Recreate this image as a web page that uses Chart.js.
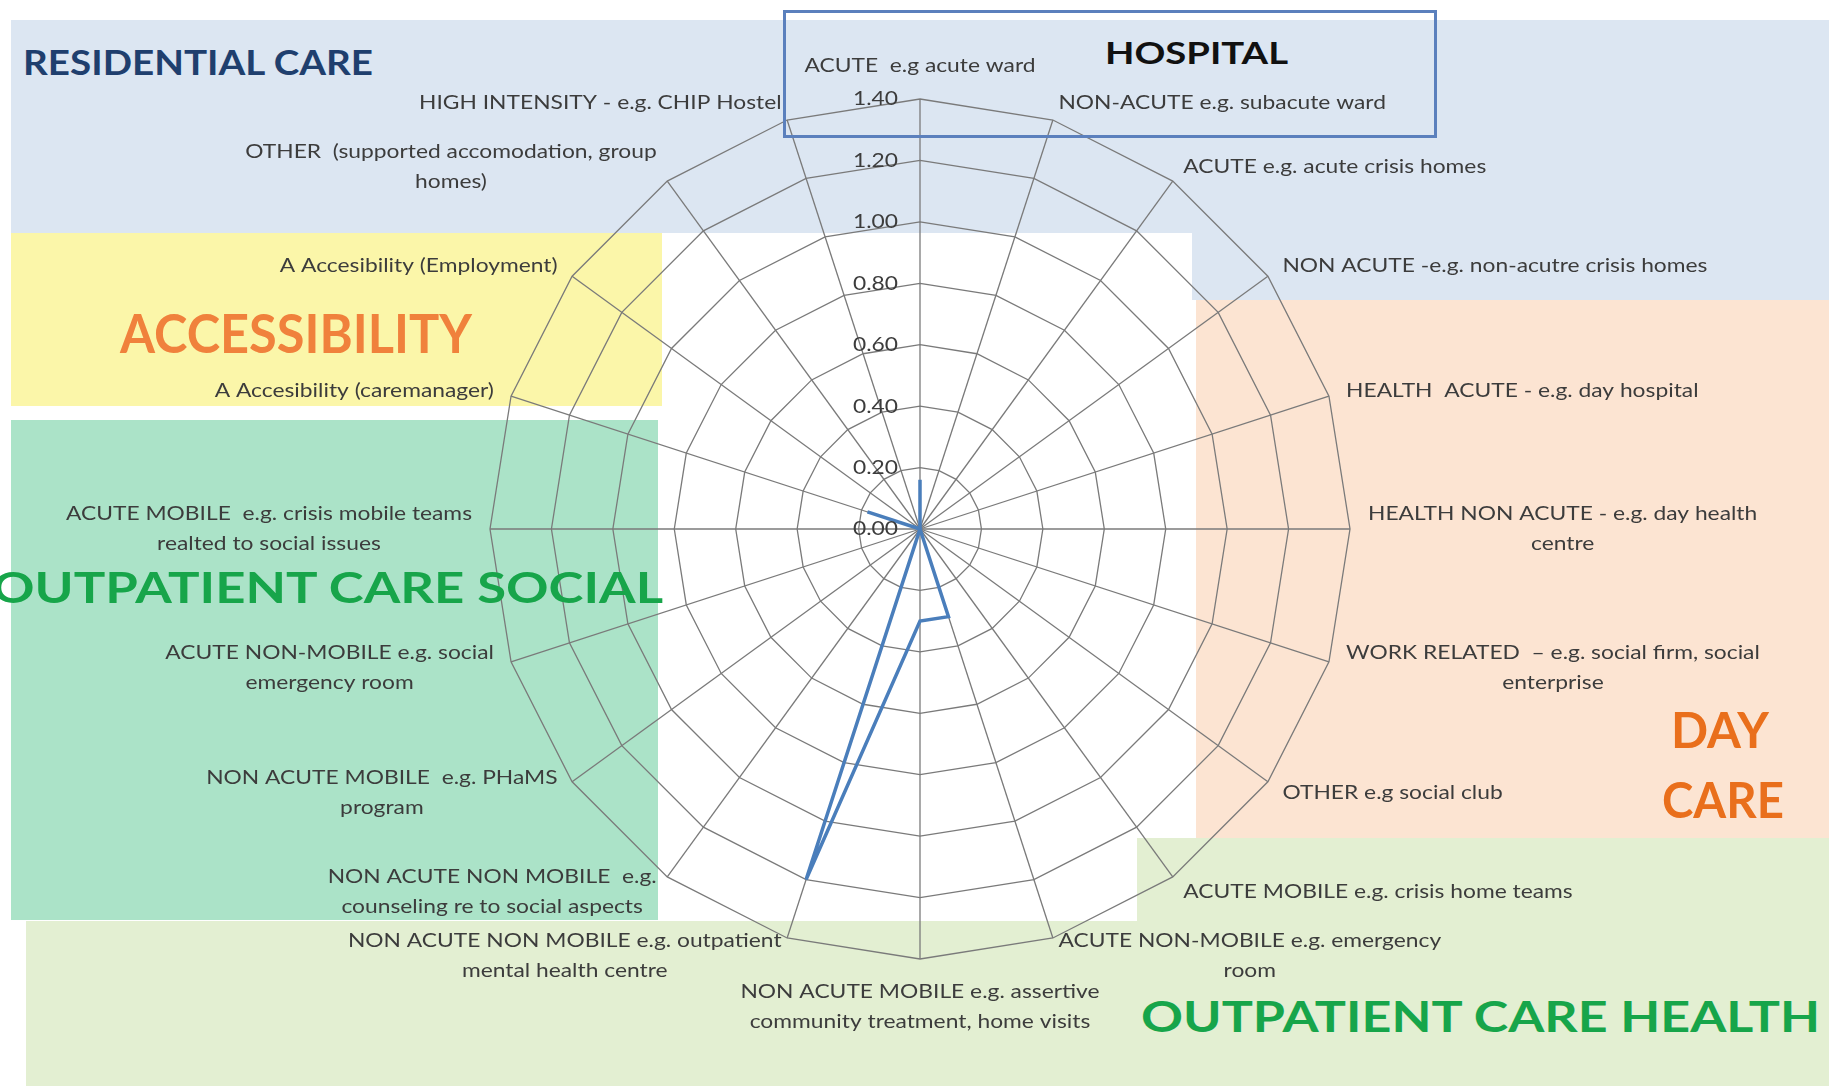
<!DOCTYPE html>
<html>
<head>
<meta charset="utf-8">
<title>Service radar</title>
<script src="https://cdn.jsdelivr.net/npm/chart.js@4.4.1/dist/chart.umd.min.js"></script>
<style>
  body { margin: 0; width: 1829px; height: 1086px; position: relative; overflow: hidden; background: #fff; font-family: Lato, sans-serif; }
  .zone { position: absolute; }
  .title { position: absolute; font-weight: bold; line-height: 1; white-space: nowrap; transform-origin: 0 0; }
  #radar { position: absolute; left: 0; top: 0; }
  #hospital-box { position: absolute; left: 783px; top: 10px; width: 648px; height: 122px; border: 3px solid #5b80bd; pointer-events: none; }
</style>
</head>
<body>
<!-- coloured zones behind the chart -->
<div class="zone" style="left:11px;top:20px;width:1818px;height:213px;background:#dce6f2"></div>
<div class="zone" style="left:1192px;top:20px;width:637px;height:280px;background:#dce6f2"></div>
<div class="zone" style="left:11px;top:233px;width:651px;height:173px;background:#fbf6a9"></div>
<div class="zone" style="left:11px;top:420px;width:647px;height:500px;background:#abe3c8"></div>
<div class="zone" style="left:1196px;top:300px;width:633px;height:538px;background:#fce4d2"></div>
<div class="zone" style="left:1137px;top:838px;width:692px;height:248px;background:#e3efd2"></div>
<div class="zone" style="left:26px;top:921px;width:1803px;height:165px;background:#e3efd2"></div>

<div class="title" data-w="350" style="left:23px;top:44px;font-size:35px;color:#1f3f6e">RESIDENTIAL CARE</div>
<div class="title" data-w="183" style="left:1105px;top:37px;font-size:31px;color:#111">HOSPITAL</div>
<div class="title" data-w="352" style="left:120px;top:306px;font-size:53px;color:#f0813c">ACCESSIBILITY</div>
<div class="title" data-w="98" style="left:1671px;top:705px;font-size:49px;color:#e96f1c">DAY</div>
<div class="title" data-w="122" style="left:1662px;top:775px;font-size:49px;color:#e96f1c">CARE</div>
<div class="title" data-w="679" style="left:1141px;top:995px;font-size:42px;color:#17a54a">OUTPATIENT CARE HEALTH</div>

<canvas id="radar" width="1829" height="1086"></canvas>

<div class="title" data-w="671" style="left:-8px;top:566px;font-size:42px;color:#17a54a">OUTPATIENT CARE SOCIAL</div>
<div id="hospital-box"></div>

<script>
// spoke labels, clockwise from the top
const categories = [
  ["ACUTE  e.g acute ward"],
  ["NON-ACUTE e.g. subacute ward"],
  ["ACUTE e.g. acute crisis homes"],
  ["NON ACUTE -e.g. non-acutre crisis homes"],
  ["HEALTH  ACUTE - e.g. day hospital"],
  ["HEALTH NON ACUTE - e.g. day health", "centre"],
  ["WORK RELATED  \u2013 e.g. social firm, social", "enterprise"],
  ["OTHER e.g social club"],
  ["ACUTE MOBILE e.g. crisis home teams"],
  ["ACUTE NON-MOBILE e.g. emergency", "room"],
  ["NON ACUTE MOBILE e.g. assertive", "community treatment, home visits"],
  ["NON ACUTE NON MOBILE e.g. outpatient", "mental health centre"],
  ["NON ACUTE NON MOBILE  e.g.", "counseling re to social aspects"],
  ["NON ACUTE MOBILE  e.g. PHaMS", "program"],
  ["ACUTE NON-MOBILE e.g. social", "emergency room"],
  ["ACUTE MOBILE  e.g. crisis mobile teams", "realted to social issues"],
  ["A Accesibility (caremanager)"],
  ["A Accesibility (Employment)"],
  ["OTHER  (supported accomodation, group", "homes)"],
  ["HIGH INTENSITY - e.g. CHIP Hostel"]
];
const serviceValues = [0.16, 0, 0, 0, 0, 0, 0, 0, 0, 0.30, 0.30, 1.20, 0, 0, 0, 0, 0.18, 0, 0, 0];
const tickValues = [0, 0.2, 0.4, 0.6, 0.8, 1.0, 1.2, 1.4];
const tickLabels = ["0.00", "0.20", "0.40", "0.60", "0.80", "1.00", "1.20", "1.40"];

// stretch the big zone titles to their widths
document.querySelectorAll('.title').forEach(function (el) {
  const w = el.getBoundingClientRect().width;
  el.style.transform = 'scaleX(' + (el.dataset.w / w) + ')';
});

const stretch = 1.14; // labels in the original are wider than Lato

function wideText(ctx, text, x, y) {
  ctx.save();
  ctx.translate(x, y);
  ctx.scale(stretch, 1);
  ctx.fillText(text, 0, 0);
  ctx.restore();
}

const spokeLabels = {
  id: 'spokeLabels',
  afterDraw(chart) {
    const r = chart.scales.r;
    const ctx = chart.ctx;
    ctx.save();
    ctx.font = '20px Lato';
    ctx.fillStyle = '#3c3c3c';
    ctx.textBaseline = 'middle';

    ctx.textAlign = 'right';
    tickValues.forEach(function (v, k) {
      wideText(ctx, tickLabels[k], r.xCenter - 22, r.yCenter - r.getDistanceFromCenterForValue(v));
    });

    ctx.textAlign = 'center';
    const lineH = 30;
    categories.forEach(function (lines, i) {
      const p = r.getPointPosition(i, r.drawingArea + 18);
      const ang = r.getIndexAngle(i);
      const s = Math.sin(ang), c = Math.cos(ang);
      const w = stretch * Math.max.apply(null, lines.map(l => ctx.measureText(l).width));
      const h = lines.length * lineH;
      let cx = p.x, top = p.y - h / 2;
      if (Math.abs(s) < 0.01) {
        top = c > 0 ? p.y - h : p.y;
      } else {
        cx = s > 0 ? p.x + w / 2 : p.x - w / 2;
      }
      lines.forEach(function (l, j) {
        wideText(ctx, l, cx, top + lineH / 2 + j * lineH);
      });
    });
    ctx.restore();
  }
};

function build() {
  new Chart(document.getElementById('radar'), {
    type: 'radar',
    data: {
      labels: categories,
      datasets: [{
        label: 'services',
        data: serviceValues,
        borderColor: '#4a7ebb',
        backgroundColor: 'transparent',
        borderWidth: 3.5,
        pointRadius: 0,
        fill: false
      }]
    },
    options: {
      responsive: false,
      animation: false,
      layout: { padding: { left: 490, right: 479, top: 99, bottom: 127 } },
      plugins: { legend: { display: false }, tooltip: { enabled: false } },
      scales: {
        r: {
          min: 0,
          max: 1.4,
          ticks: { stepSize: 0.2, display: false },
          grid: { color: '#7a7a7a', lineWidth: 1.3, circular: false },
          angleLines: { color: '#7a7a7a', lineWidth: 1.3 },
          pointLabels: { display: false }
        }
      }
    },
    plugins: [spokeLabels]
  });
}

document.fonts.load('20px Lato').then(build, build);
</script>
</body>
</html>
